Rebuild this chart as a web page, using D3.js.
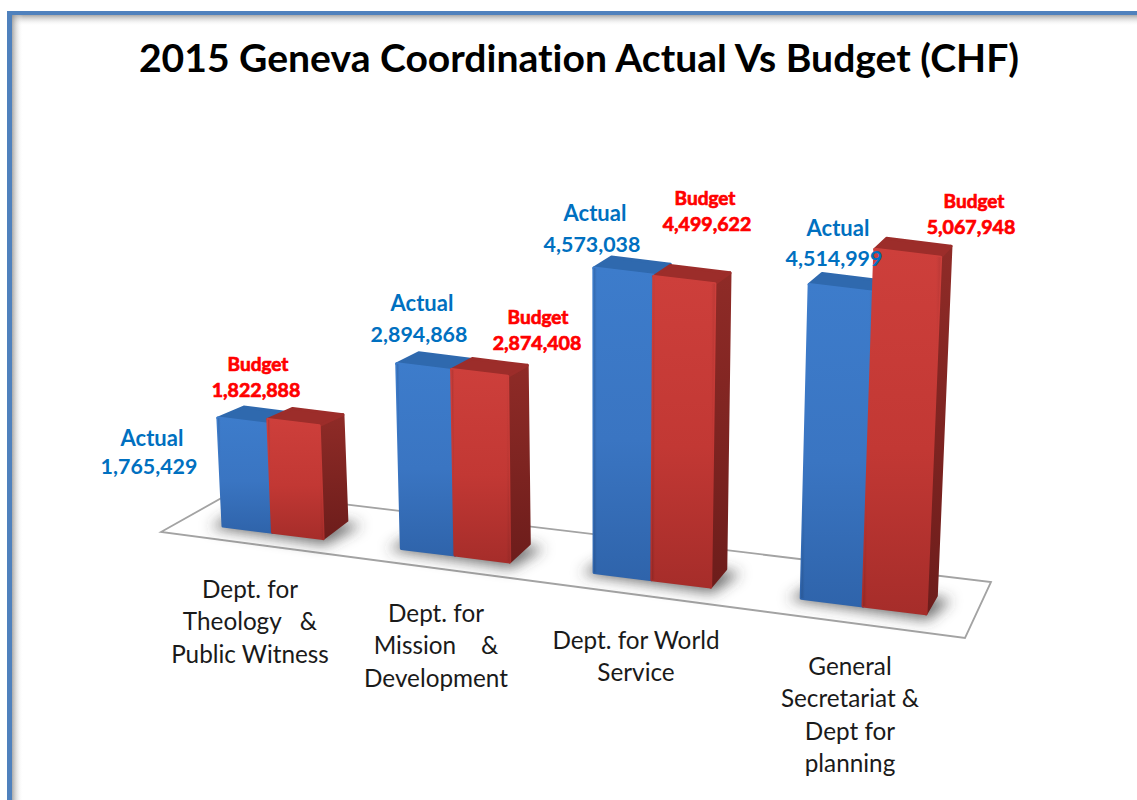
<!DOCTYPE html>
<html>
<head>
<meta charset="utf-8">
<script src="https://cdnjs.cloudflare.com/ajax/libs/d3/7.8.5/d3.min.js"></script>
<style>
  html, body { margin: 0; padding: 0; background: #fff; }
  svg { display: block; font-family: Lato, "Open Sans", sans-serif; font-variant-ligatures: none; }
  text { white-space: pre; }
</style>
</head>
<body>
<svg id="viz" width="1137" height="800"></svg>
<script>
const chartTitle = "2015 Geneva Coordination Actual Vs Budget (CHF)";
const categories = ["theology", "mission", "service", "general"];
const categoryLines = [
    ["Dept. for", "Theology   &", "Public Witness"],
    ["Dept. for", "Mission    &", "Development"],
    ["Dept. for World", "Service"],
    ["General", "Secretariat &", "Dept for", "planning"]
];
const seriesNames = ["Actual", "Budget"];
const actualValues = [1765429, 2894868, 4573038, 4514999];
const budgetValues = [1822888, 2874408, 4499622, 5067948];

// label placement: [x name, y name, x value, y value]
const actualLabelPos = [[152, 446, 149, 474], [422, 311, 419, 342], [595, 221, 592, 252], [838, 236, 834, 266]];
const budgetLabelPos = [[258, 371, 256, 397], [538, 324, 537, 350], [705, 205, 707, 231], [974, 208, 971, 234]];
const categoryLabelPos = [[250, 598], [436, 622], [636, 649], [850, 675]];

const width = 1137;
const height = 800;
const svg = d3.select("#viz").attr("viewBox", [0, 0, width, height]);
const defs = svg.append("defs");

const gradient = (id, x2, y2, stops) => {
    const g = defs.append("linearGradient").attr("id", id)
        .attr("x1", 0).attr("y1", 0).attr("x2", x2).attr("y2", y2);
    stops.forEach(s => g.append("stop").attr("offset", s[0]).attr("stop-color", s[1]).attr("stop-opacity", s[2] === undefined ? 1 : s[2]));
};
gradient("blueFront", 0, 1, [[0, "#3d7ccb"], [0.55, "#3a75c2"], [1, "#2f64ab"]]);
gradient("redFront", 0, 1, [[0, "#cd3f3b"], [0.55, "#c23834"], [1, "#a62d2a"]]);
gradient("redSide", 0, 1, [[0, "#8f2b27"], [1, "#6d1d1b"]]);
gradient("blueSide", 0, 1, [[0, "#2c5f9f"], [1, "#234c80"]]);
gradient("edgeShade", 1, 0, [[0, "#000", 0.14], [0.05, "#000", 0], [0.94, "#000", 0], [1, "#000", 0.08]]);
gradient("frameTop", 0, 1, [[0, "#8c8c8c", 0.75], [1, "#fff", 0]]);
gradient("frameLeft", 1, 0, [[0, "#8c8c8c", 0.75], [1, "#fff", 0]]);

defs.append("filter").attr("id", "blur").attr("x", "-30%").attr("y", "-60%").attr("width", "160%").attr("height", "220%")
    .append("feGaussianBlur").attr("stdDeviation", 7);

// page frame
svg.append("rect").attr("x", 12).attr("y", 15).attr("width", width).attr("height", 11).attr("fill", "url(#frameTop)");
svg.append("rect").attr("x", 12).attr("y", 15).attr("width", 11).attr("height", height).attr("fill", "url(#frameLeft)");
svg.append("rect").attr("x", 7).attr("y", 11).attr("width", width).attr("height", 4).attr("fill", "#4f81bd");
svg.append("rect").attr("x", 7).attr("y", 11).attr("width", 5).attr("height", height).attr("fill", "#4f81bd");

svg.append("text")
    .attr("x", 579).attr("y", 72)
    .attr("text-anchor", "middle")
    .attr("font-size", 39.1).attr("font-weight", 700).attr("fill", "#000")
    .text(chartTitle);

// slanted floor
const line = d3.line();
svg.append("path")
    .attr("d", line([[161, 532], [234, 491], [991, 582], [965, 638]]) + "Z")
    .attr("fill", "#fff").attr("stroke", "#a3a3a3").attr("stroke-width", 1.8);

// logical positions 0..1 along the baseline, stretched for perspective
const x0 = d3.scaleBand().domain(categories).range([0, 1]).paddingInner(1.5 / 3.5);
const x1 = d3.scaleBand().domain(seriesNames).range([0, x0.bandwidth()]);
const perspective = 0.15;
const px = d3.scaleLinear().domain([0, 1]).range([223, 926]);
const toPx = t => px(t * (1 + perspective * t) / (1 + perspective));

const baseY = d3.scaleLinear().domain([222, 927]).range([526, 614]);
const pxPerMillion = d3.scaleLinear().domain([245, 895]).range([61.2, 70.4]);
const depthX = d3.scaleLinear().domain([220, 940]).range([26, 10]);
const lean = 0.000126;
const floorDepthY = -18;
const topDepthY = -11;

const drawBar = (g, cat, name, value, fills) => {
    const left = toPx(x0(cat) + x1(name));
    const right = toPx(x0(cat) + x1(name) + x1.bandwidth());
    const h = pxPerMillion((left + right) / 2) * value / 1e6;
    const top = x => [x + (x - 600) * lean * h, baseY(x) - h];
    const bl = [left, baseY(left)];
    const br = [right, baseY(right)];
    const tl = top(left);
    const tr = top(right);
    const back = (p, x, dy) => [p[0] + depthX(x), p[1] + dy];

    const face = (pts, fill, sw) => g.append("path")
        .attr("d", line(pts) + "Z")
        .attr("fill", fill).attr("stroke", fill).attr("stroke-width", sw).attr("stroke-linejoin", "round");

    face([br, back(br, right, floorDepthY), back(tr, right, topDepthY), tr], fills.side, 3);
    face([tl, tr, back(tr, right, topDepthY), back(tl, left, topDepthY)], fills.top, 3);
    face([bl, br, tr, tl], fills.front, 3);
    g.append("path").attr("d", line([bl, br, tr, tl]) + "Z").attr("fill", "url(#edgeShade)");
};

const shadows = svg.append("g").attr("filter", "url(#blur)");
const bars = svg.append("g");

categories.forEach((cat, i) => {
    const l = toPx(x0(cat));
    const r = toPx(x0(cat) + x0.bandwidth());
    shadows.append("path")
        .attr("d", line([
            [l - 13, baseY(l) + 1],
            [r + 2, baseY(r) + 6],
            [r + depthX(r) + 15, baseY(r) + floorDepthY + 4],
            [l + 20, baseY(l) + floorDepthY]
        ]) + "Z")
        .attr("fill", "#3c3c3c").attr("fill-opacity", 0.75);

    const g = bars.append("g");
    drawBar(g, cat, "Actual", actualValues[i], {front: "url(#blueFront)", top: "#2f69ae", side: "url(#blueSide)"});
    drawBar(g, cat, "Budget", budgetValues[i], {front: "url(#redFront)", top: "#9c2d2a", side: "url(#redSide)"});
});

// value labels
const fmt = d3.format(",");
const labels = svg.append("g").attr("text-anchor", "middle").attr("font-weight", 700);
const addLabels = (name, values, positions, color, strokeW, nameSize, valueSize) => {
    values.forEach((v, i) => {
        const p = positions[i];
        [[name, p[0], p[1], nameSize], [fmt(v), p[2], p[3], valueSize]].forEach(d => {
            labels.append("text")
                .attr("x", d[1]).attr("y", d[2])
                .attr("font-size", d[3])
                .attr("fill", color).attr("stroke", color).attr("stroke-width", strokeW)
                .text(d[0]);
        });
    });
};
addLabels("Actual", actualValues, actualLabelPos, "#0070c0", 0, 22, 21.4);
addLabels("Budget", budgetValues, budgetLabelPos, "#ff0000", 0.7, 19, 19.6);

// category labels
const catLabels = svg.append("g").attr("text-anchor", "middle").attr("font-size", 24.3).attr("fill", "#1a1a1a");
categoryLines.forEach((lines, i) => {
    lines.forEach((t, j) => {
        catLabels.append("text")
            .attr("x", categoryLabelPos[i][0])
            .attr("y", categoryLabelPos[i][1] + j * 32.3)
            .text(t);
    });
});
</script>
</body>
</html>
